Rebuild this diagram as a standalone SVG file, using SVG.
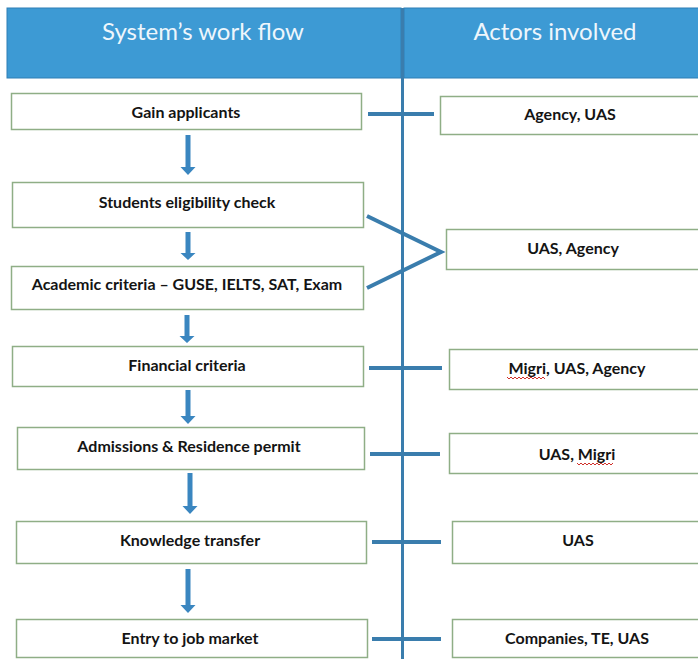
<svg xmlns="http://www.w3.org/2000/svg" width="698" height="659" viewBox="0 0 698 659">
<style>
.hdr{fill:#3d9ad4;stroke:#2f7fb5;stroke-width:1}
.htxt{font-family:Lato,"Open Sans",sans-serif;font-size:24px;fill:#eef6fc;text-anchor:middle;dominant-baseline:central}
.box{fill:#ffffff;stroke:#8fae86;stroke-width:1.5}
.txt{font-family:Lato,"Open Sans",sans-serif;font-weight:bold;font-size:16px;fill:#141414;text-anchor:middle;dominant-baseline:central}
.conn{stroke:#3a7dad;stroke-width:4;fill:none}
.vline{stroke:#3a7dad;stroke-width:3}
.arrow{fill:#3a86c0}
.sq{stroke:#d0302a;stroke-width:1;fill:none}
</style>
<rect width="698" height="659" fill="#ffffff"/>
<g id="header">
<rect class="hdr" x="7" y="8" width="394" height="70"/>
<rect class="hdr" x="404" y="8" width="296" height="70"/>
<text class="htxt" x="203" y="30">System’s work flow</text>
<text class="htxt" x="555" y="30">Actors involved</text>
</g>
<g id="connectors">
<line class="vline" x1="402.5" y1="8" x2="402.5" y2="659"/>
<line class="conn" x1="368" y1="114" x2="434" y2="114"/>
<polyline class="conn" points="367,216 441,252 367,288"/>
<line class="conn" x1="369" y1="368" x2="442" y2="368"/>
<line class="conn" x1="370" y1="454" x2="440" y2="454"/>
<line class="conn" x1="372" y1="542" x2="441" y2="542"/>
<line class="conn" x1="372" y1="639" x2="441" y2="639"/>
<path class="arrow" d="M185.5,135 h5 v32 h5 l-7.5,8 l-7.5,-8 h5 z"/>
<path class="arrow" d="M185.5,232 h5 v21 h5 l-7.5,7 l-7.5,-7 h5 z"/>
<path class="arrow" d="M184.5,315 h5 v21 h5 l-7.5,7 l-7.5,-7 h5 z"/>
<path class="arrow" d="M185.5,390 h5 v26 h5 l-7.5,8 l-7.5,-8 h5 z"/>
<path class="arrow" d="M187.5,473 h5 v33 h5 l-7.5,8 l-7.5,-8 h5 z"/>
<path class="arrow" d="M185.5,569 h5 v36 h5 l-7.5,8 l-7.5,-8 h5 z"/>
</g>
<g id="n1"><rect class="box" x="11.5" y="93.5" width="350" height="36"/><text class="txt" x="186" y="111">Gain applicants</text></g>
<g id="n2"><rect class="box" x="12.5" y="182.5" width="351" height="45"/><text class="txt" x="187" y="201">Students eligibility check</text></g>
<g id="n3"><rect class="box" x="11.5" y="266.5" width="352" height="43"/><text class="txt" x="187" y="283">Academic criteria – GUSE, IELTS, SAT, Exam</text></g>
<g id="n4"><rect class="box" x="12.5" y="346.5" width="351" height="40"/><text class="txt" x="187" y="364">Financial criteria</text></g>
<g id="n5"><rect class="box" x="17.5" y="427.5" width="347" height="42"/><text class="txt" x="189" y="445">Admissions &amp; Residence permit</text></g>
<g id="n6"><rect class="box" x="16.5" y="521.5" width="350" height="42"/><text class="txt" x="190" y="539">Knowledge transfer</text></g>
<g id="n7"><rect class="box" x="16.5" y="619.5" width="351" height="38"/><text class="txt" x="190" y="637">Entry to job market</text></g>
<g id="a1"><rect class="box" x="440.5" y="96.5" width="262" height="38"/><text class="txt" x="570" y="113">Agency, UAS</text></g>
<g id="a2"><rect class="box" x="446.5" y="229.5" width="256" height="40"/><text class="txt" x="573" y="247">UAS, Agency</text></g>
<g id="a3"><rect class="box" x="449.5" y="349.5" width="253" height="40"/><text class="txt" x="577" y="367">Migri, UAS, Agency</text>
<path class="sq" d="M507,377 l2,2 l2,-2 l2,2 l2,-2 l2,2 l2,-2 l2,2 l2,-2 l2,2 l2,-2 l2,2 l2,-2 l2,2 l2,-2 l2,2 l2,-2 l2,2 l2,-2 l2,2"/></g>
<g id="a4"><rect class="box" x="449.5" y="433.5" width="253" height="40"/><text class="txt" x="577" y="453">UAS, Migri</text>
<path class="sq" d="M577,463 l2,2 l2,-2 l2,2 l2,-2 l2,2 l2,-2 l2,2 l2,-2 l2,2 l2,-2 l2,2 l2,-2 l2,2 l2,-2 l2,2 l2,-2 l2,2 l2,-2"/></g>
<g id="a5"><rect class="box" x="452.5" y="521.5" width="250" height="42"/><text class="txt" x="578" y="539">UAS</text></g>
<g id="a6"><rect class="box" x="452.5" y="619.5" width="250" height="38"/><text class="txt" x="577" y="637">Companies, TE, UAS</text></g>
</svg>
